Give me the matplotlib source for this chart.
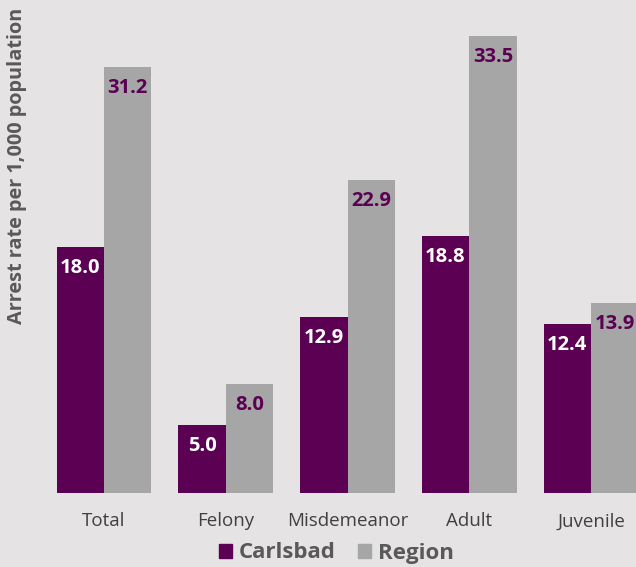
import numpy as np
import matplotlib
matplotlib.use("Agg")
import matplotlib.pyplot as plt
from matplotlib.patches import Patch

categories = ["Total", "Felony", "Misdemeanor", "Adult", "Juvenile"]
carlsbad = [18.0, 5.0, 12.9, 18.8, 12.4]
region = [31.2, 8.0, 22.9, 33.5, 13.9]

PURPLE = "#5b0052"
GRAY = "#a6a6a6"
BG = "#e5e3e3"

plt.rcParams["font.family"] = ["Open Sans", "DejaVu Sans"]

fig = plt.figure(figsize=(6.36, 5.67), dpi=100, facecolor=BG)
ax = fig.add_axes([0.0, 0.1305, 1.0, 0.8695])
ax.set_facecolor(BG)

x = np.arange(len(categories))
w = 0.39
ax.bar(x - w / 2, carlsbad, w, color=PURPLE)
ax.bar(x + w / 2, region, w, color=GRAY)

for xi, v in zip(x - w / 2, carlsbad):
    ax.annotate(f"{v:.1f}", (xi, v), xytext=(0, -21), textcoords="offset pixels",
                ha="center", va="center", color="white", fontsize=14.5, fontweight="bold")
for xi, v in zip(x + w / 2, region):
    ax.annotate(f"{v:.1f}", (xi, v), xytext=(0, -21), textcoords="offset pixels",
                ha="center", va="center", color=PURPLE, fontsize=14.5, fontweight="bold")

ax.set_xlim(-104 / 121.75, 532 / 121.75)
ax.set_ylim(0, 493 / 13.65)
ax.set_xticks(x)
ax.set_xticklabels(categories, fontsize=13.5, color="#404040")
ax.tick_params(axis="x", length=0, pad=14)
ax.set_yticks([])
for s in ax.spines.values():
    s.set_visible(False)

fig.text(17 / 636, 1 - 166 / 567, "Arrest rate per 1,000 population", rotation=90,
         ha="center", va="center", fontsize=14.3, fontweight="bold", color="#595959")

handles = [Patch(color=PURPLE, label="Carlsbad"), Patch(color=GRAY, label="Region")]
fig.legend(handles=handles, loc="center", bbox_to_anchor=(336 / 636, 1 - 553 / 567), ncol=2,
           frameon=False, handlelength=0.6, handleheight=0.6, handletextpad=0.3,
           columnspacing=1.0, prop={"size": 16, "weight": "bold"}, labelcolor="#595959")

fig.savefig("out.png", dpi=100, facecolor=BG)
